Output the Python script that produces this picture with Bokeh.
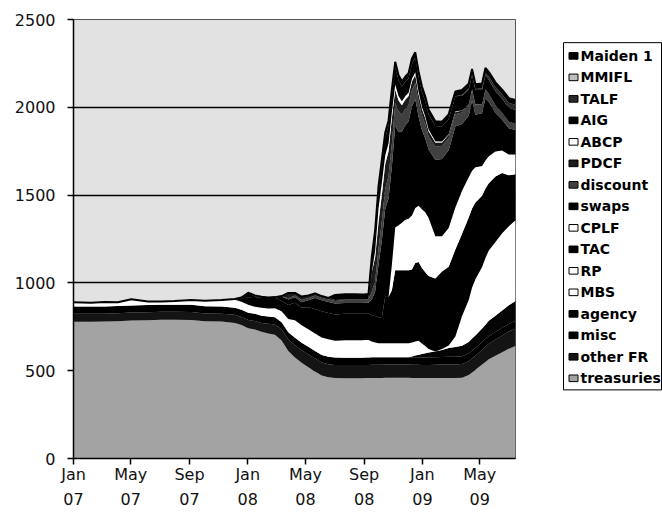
import pandas as pd
from bokeh.plotting import figure
from bokeh.layouts import row
from bokeh.models import Range1d, FixedTicker, DatetimeAxis, DatetimeTickFormatter, ColumnDataSource
from bokeh.transform import stack
from bokeh.embed import file_html
from bokeh.resources import INLINE
from bokeh.core.properties import value

# ---------------- data (billions of dollars) ----------------
dates = [
    "2007-01-01", "2007-02-07", "2007-03-07", "2007-04-04", "2007-05-02", "2007-06-06",
    "2007-07-04", "2007-08-01", "2007-09-05", "2007-10-03", "2007-11-07", "2007-12-05",
    "2007-12-19", "2008-01-02", "2008-01-16", "2008-01-30", "2008-02-13", "2008-02-27",
    "2008-03-12", "2008-03-26", "2008-04-09", "2008-04-23", "2008-05-07", "2008-05-21",
    "2008-06-04", "2008-06-18", "2008-07-02", "2008-07-23", "2008-08-13", "2008-08-27",
    "2008-09-03", "2008-09-10", "2008-09-17", "2008-09-24", "2008-10-01", "2008-10-08",
    "2008-10-15", "2008-10-22", "2008-10-29", "2008-11-05", "2008-11-12", "2008-11-19",
    "2008-11-26", "2008-12-03", "2008-12-10", "2008-12-17", "2008-12-24", "2008-12-31",
    "2009-01-07", "2009-01-14", "2009-01-28", "2009-02-11", "2009-02-25", "2009-03-11",
    "2009-03-25", "2009-04-08", "2009-04-15", "2009-04-22", "2009-05-06", "2009-05-13",
    "2009-05-20", "2009-06-03", "2009-06-17", "2009-07-01", "2009-07-15",
]

treasuries = [779, 779, 780, 782, 786, 788, 790, 790, 789, 781, 780, 772, 760,
              742, 735, 722, 712, 705, 672, 612, 575, 545, 520, 495, 472, 462, 458, 457, 457, 457,
              458, 458, 459, 459, 459, 459, 460, 460, 460, 460, 460, 460, 460, 460, 459, 459, 459, 458,
              458, 458, 458, 458, 458, 458, 460, 475, 490, 505, 535, 550, 565, 585, 605, 625, 640]
other_fr = [45, 45, 45, 45, 45, 45, 45, 45, 45, 45, 45, 46, 46,
            47, 48, 50, 55, 58, 62, 65, 70, 72, 74, 75, 75, 75, 75, 75, 75, 75,
            75, 75, 75, 75, 75, 75, 75, 75, 75, 75, 75, 75, 75, 75, 75, 75, 75, 75,
            75, 75, 76, 77, 77, 78, 78, 79, 80, 80, 84, 86, 88, 92, 95, 98, 100]
misc = [41, 41, 41, 41, 41, 41, 41, 41, 41, 41, 41, 41, 41,
        41, 41, 41, 42, 42, 42, 42, 42, 42, 42, 42, 42, 42, 42, 42, 42, 42,
        42, 42, 42, 42, 42, 42, 42, 42, 42, 42, 42, 42, 42, 42, 42, 42, 42, 42,
        42, 43, 43, 43, 44, 44, 44, 44, 44, 44, 44, 44, 44, 44, 45, 45, 45]
agency = [0, 0, 0, 0, 0, 0, 0, 0, 0, 0, 0, 0, 0,
          0, 0, 0, 0, 0, 0, 0, 0, 0, 0, 0, 0, 0, 0, 0, 0, 0,
          0, 0, 0, 0, 0, 0, 0, 0, 0, 0, 0, 0, 0, 0, 5, 10, 15, 20,
          25, 28, 32, 40, 50, 55, 60, 65, 70, 72, 78, 82, 88, 92, 98, 105, 112]
mbs = [0, 0, 0, 0, 0, 0, 0, 0, 0, 0, 0, 0, 0,
       0, 0, 0, 0, 0, 0, 0, 0, 0, 0, 0, 0, 0, 0, 0, 0, 0,
       0, 0, 0, 0, 0, 0, 0, 0, 0, 0, 0, 0, 0, 0, 0, 0, 0, 0,
       0, 0, 0, 5, 15, 60, 170, 240, 290, 320, 350, 380, 400, 420, 440, 450, 460]
rp = [25, 22, 25, 22, 35, 20, 18, 20, 25, 30, 35, 45, 45,
      45, 40, 45, 45, 50, 62, 75, 100, 100, 100, 100, 100, 100, 95, 100, 100, 100,
      100, 100, 90, 85, 80, 80, 80, 80, 80, 80, 80, 80, 80, 80, 80, 80, 80, 60,
      40, 20, 0, 0, 0, 0, 0, 0, 0, 0, 0, 0, 0, 0, 0, 0, 0]
tac = [0, 0, 0, 0, 0, 0, 0, 0, 0, 0, 0, 0, 20,
       40, 50, 60, 60, 60, 60, 80, 100, 100, 125, 140, 150, 150, 150, 150, 150, 150,
       150, 150, 150, 150, 149, 149, 264, 263, 301, 415, 415, 415, 415, 415, 416, 448, 448, 430,
       420, 415, 416, 442, 448, 495, 468, 469, 450, 437, 405, 395, 383, 373, 343, 290, 262]
cplf = [0, 0, 0, 0, 0, 0, 0, 0, 0, 0, 0, 0, 0,
        0, 0, 0, 0, 0, 0, 0, 0, 0, 0, 0, 0, 0, 0, 0, 0, 0,
        0, 0, 0, 0, 0, 0, 0, 0, 145, 243, 257, 270, 287, 293, 307, 313, 321, 334,
        343, 330, 240, 200, 220, 240, 245, 230, 215, 200, 170, 160, 153, 143, 128, 118, 112]
swaps = [0, 0, 0, 0, 0, 0, 0, 0, 0, 0, 0, 0, 0,
         24, 10, 0, 0, 0, 24, 31, 31, 31, 40, 62, 62, 62, 62, 62, 62, 62,
         62, 62, 90, 140, 300, 437, 500, 560, 560, 580, 530, 520, 537, 555, 620, 620, 505, 450,
         420, 390, 435, 440, 443, 460, 380, 350, 400, 300, 300, 355, 310, 220, 175, 150, 140]
discount = [0, 0, 0, 0, 0, 0, 0, 1, 2, 1, 1, 4, 5,
            5, 5, 3, 3, 4, 3, 8, 10, 12, 13, 14, 14, 15, 15, 17, 19, 19,
            19, 19, 45, 60, 90, 110, 115, 130, 130, 130, 120, 95, 95, 95, 95, 92, 90, 85,
            80, 75, 75, 75, 70, 70, 65, 60, 60, 55, 50, 48, 46, 42, 40, 37, 35]
pdcf = [0, 0, 0, 0, 0, 0, 0, 0, 0, 0, 0, 0, 0,
        0, 0, 0, 0, 0, 0, 30, 15, 20, 15, 12, 10, 8, 5, 3, 1, 0,
        0, 2, 110, 135, 150, 150, 140, 140, 145, 75, 60, 55, 52, 50, 48, 45, 40, 37,
        35, 30, 25, 20, 18, 15, 10, 5, 3, 2, 1, 0, 0, 0, 0, 0, 0]
abcp = [0, 0, 0, 0, 0, 0, 0, 0, 0, 0, 0, 0, 0,
        0, 0, 0, 0, 0, 0, 0, 0, 0, 0, 0, 0, 0, 0, 0, 0, 0,
        0, 0, 0, 40, 80, 70, 50, 45, 35, 30, 25, 22, 20, 18, 16, 15, 13, 12,
        10, 9, 7, 5, 4, 3, 2, 1, 1, 1, 1, 1, 0, 0, 0, 0, 0]
aig = [0, 0, 0, 0, 0, 0, 0, 0, 0, 0, 0, 0, 0,
       0, 0, 0, 0, 0, 0, 0, 0, 0, 0, 0, 0, 0, 0, 0, 0, 0,
       0, 0, 60, 85, 95, 100, 100, 100, 100, 100, 90, 85, 82, 82, 85, 85, 86, 86,
       86, 86, 86, 86, 86, 85, 84, 83, 83, 82, 81, 81, 80, 80, 80, 79, 79]
talf = [0, 0, 0, 0, 0, 0, 0, 0, 0, 0, 0, 0, 0,
        0, 0, 0, 0, 0, 0, 0, 0, 0, 0, 0, 0, 0, 0, 0, 0, 0,
        0, 0, 0, 0, 0, 0, 0, 0, 0, 0, 0, 0, 0, 0, 0, 0, 0, 0,
        0, 0, 0, 0, 0, 0, 5, 6, 6, 6, 10, 15, 18, 24, 25, 28, 30]
mmifl = [0, 0, 0, 0, 0, 0, 0, 0, 0, 0, 0, 0, 0,
         0, 0, 0, 0, 0, 0, 0, 0, 0, 0, 0, 0, 0, 0, 0, 0, 0,
         0, 0, 0, 0, 0, 0, 0, 0, 0, 0, 0, 0, 0, 0, 0, 0, 0, 0,
         0, 0, 0, 0, 0, 0, 0, 0, 0, 0, 0, 0, 0, 0, 0, 0, 0]
maiden1 = [0, 0, 0, 0, 0, 0, 0, 0, 0, 0, 0, 0, 0,
           0, 0, 0, 0, 0, 0, 0, 0, 0, 0, 0, 0, 0, 29, 29, 29, 29,
           29, 29, 29, 29, 29, 29, 29, 29, 29, 29, 29, 29, 29, 29, 29, 29, 29, 29,
           27, 27, 27, 27, 27, 27, 27, 27, 27, 27, 27, 27, 27, 27, 27, 27, 27]

# stacking order, bottom to top
series_names = ["treasuries", "other FR", "misc", "agency", "MBS", "RP", "TAC", "CPLF",
                "swaps", "discount", "PDCF", "ABCP", "AIG", "TALF", "MMIFL", "Maiden 1"]
series_values = [treasuries, other_fr, misc, agency, mbs, rp, tac, cplf,
                 swaps, discount, pdcf, abcp, aig, talf, mmifl, maiden1]
series_colors = ["#a3a3a3", "#141414", "#000000", "#050505", "#ffffff", "#ffffff", "#000000", "#ffffff",
                 "#000000", "#404040", "#1c1c1c", "#ffffff", "#000000", "#2a2a2a", "#bdbdbd", "#000000"]

tick_dates = ["2007-01-01", "2007-05-01", "2007-09-01", "2008-01-01",
              "2008-05-01", "2008-09-01", "2009-01-01", "2009-05-01"]
y_ticks = [0, 500, 1000, 1500, 2000, 2500]
grid_ticks = [500, 1000, 1500, 2000]

# ---------------- chart ----------------
data = {"x": pd.to_datetime(dates)}
for name, vals in zip(series_names, series_values):
    data[name] = vals
source = ColumnDataSource(data)

FONT = "DejaVu Sans"

p = figure(width=520, height=531, x_axis_type="datetime",
           x_range=Range1d(pd.Timestamp("2007-01-01"), pd.Timestamp("2009-07-15")),
           y_range=Range1d(0, 2500),
           output_backend="svg", toolbar_location=None, title=None,
           min_border_left=73, min_border_right=5, min_border_top=19, min_border_bottom=73)
p.background_fill_color = "#e2e2e2"
p.border_fill_color = "white"
p.outline_line_color = "#555555"
p.outline_line_width = 1

p.varea_stack(stackers=series_names, x="x", color=series_colors, source=source)
p.line(x="x", y=stack(*series_names), source=source, line_color="black", line_width=2)

# grid
p.xgrid.visible = False
p.ygrid.ticker = FixedTicker(ticks=grid_ticks)
p.ygrid.grid_line_color = "black"
p.ygrid.grid_line_width = 1.6

# y axis
p.yaxis.ticker = FixedTicker(ticks=y_ticks)
p.yaxis.minor_tick_line_color = None
p.yaxis.major_tick_out = 6
p.yaxis.major_tick_in = 0
p.yaxis.major_tick_line_color = "black"
p.yaxis.major_tick_line_width = 1.5
p.yaxis.axis_line_color = "black"
p.yaxis.axis_line_width = 1.5
p.yaxis.major_label_standoff = 12
p.yaxis.major_label_text_font = FONT
p.yaxis.major_label_text_font_size = "16px"
p.yaxis.major_label_text_color = "#111111"

# x axis (month row)
tick_ms = [pd.Timestamp(d).value // 10**6 for d in tick_dates]
p.xaxis.ticker = FixedTicker(ticks=tick_ms)
p.xaxis.formatter = DatetimeTickFormatter(years="%b", months="%b", days="%b", hours="%b")
p.xaxis.minor_tick_line_color = None
p.xaxis.major_tick_out = 6
p.xaxis.major_tick_in = 0
p.xaxis.major_tick_line_color = "black"
p.xaxis.major_tick_line_width = 1.5
p.xaxis.axis_line_color = "black"
p.xaxis.axis_line_width = 1.5
p.xaxis.major_label_standoff = 0
p.xaxis.major_label_text_font = FONT
p.xaxis.major_label_text_font_size = "16px"
p.xaxis.major_label_text_color = "#111111"

# x axis (year row)
ax2 = DatetimeAxis(ticker=FixedTicker(ticks=tick_ms),
                   formatter=DatetimeTickFormatter(years="%y", months="%y", days="%y", hours="%y"),
                   axis_line_color=None, major_tick_line_color=None, minor_tick_line_color=None,
                   major_tick_out=0, major_tick_in=0, major_label_standoff=6,
                   major_label_text_font=FONT, major_label_text_font_size="16px",
                   major_label_text_color="#111111")
p.add_layout(ax2, "below")

# ---------------- legend panel ----------------
lf = figure(width=142, height=531, x_range=Range1d(0, 142), y_range=Range1d(531, 0),
            x_axis_type=None, y_axis_type=None, output_backend="svg",
            toolbar_location=None, title=None, min_border=0)
lf.grid.visible = False
lf.outline_line_color = None
lf.background_fill_color = "white"
lf.border_fill_color = "white"

legend_names = series_names[::-1]
legend_colors = series_colors[::-1]
row_y = [44 + 26 * i for i in range(len(legend_names))]
lf.quad(left=43, right=141, top=28, bottom=448, fill_color=None, line_color="black", line_width=1)
lf.rect(x=53, y=row_y, width=9, height=8, fill_color=legend_colors, line_color="black", line_width=1)
lf.text(x=60, y=row_y, text=legend_names, text_font=value(FONT), text_font_style="bold",
        text_font_size="14px", text_baseline="middle", text_align="left", text_color="black")

layout = row(p, lf)
open("out.html", "w").write(file_html(layout, INLINE))
